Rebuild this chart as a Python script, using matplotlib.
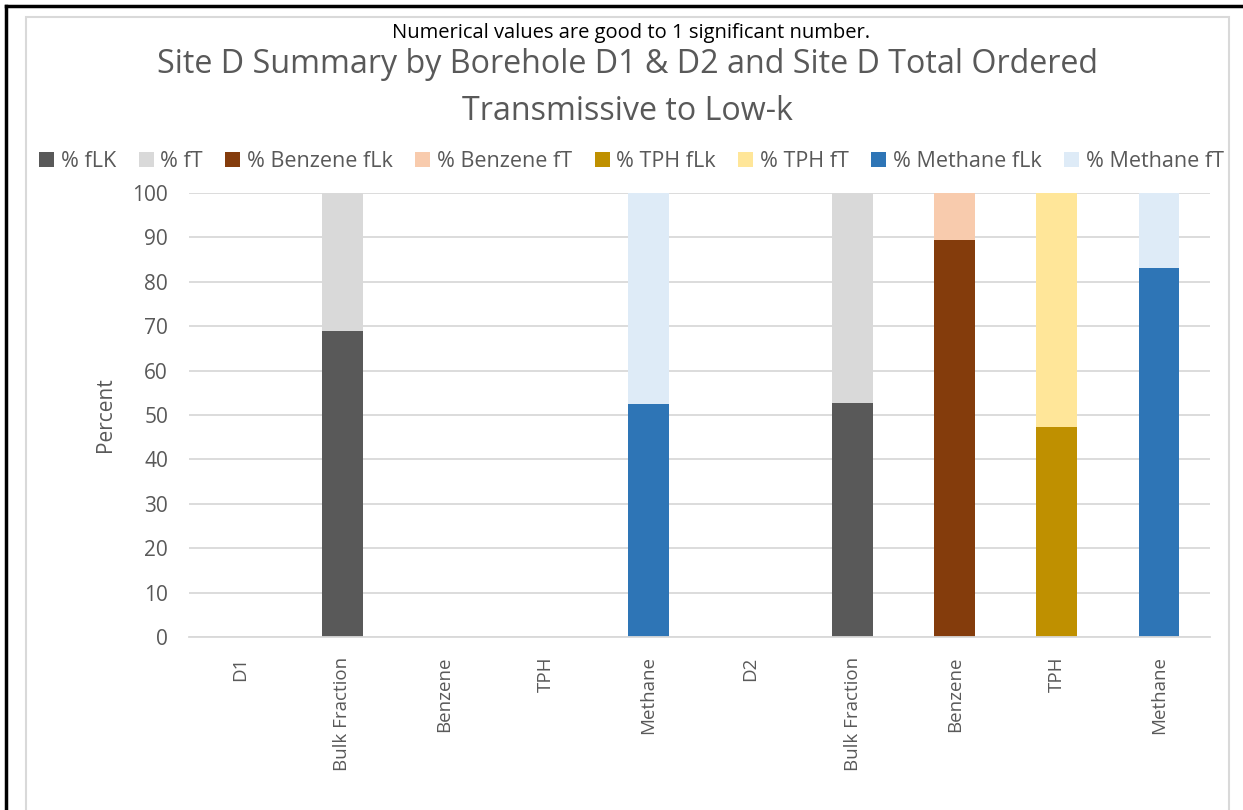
"""
Site D summary: transmissive vs. low-k fractions by borehole.
"""

import numpy as np
import matplotlib.pyplot as plt
from matplotlib.patches import Rectangle

categories = ["D1", "Bulk Fraction", "Benzene", "TPH", "Methane",
              "D2", "Bulk Fraction", "Benzene", "TPH", "Methane"]

series_names = ["% fLK", "% fT", "% Benzene fLk", "% Benzene fT",
                "% TPH fLk", "% TPH fT", "% Methane fLk", "% Methane fT"]

bulk_flk = [0, 69.0, 0, 0, 0, 0, 52.6, 0, 0, 0]
bulk_ft = [0, 31.0, 0, 0, 0, 0, 47.4, 0, 0, 0]
benzene_flk = [0, 0, 0, 0, 0, 0, 0, 89.4, 0, 0]
benzene_ft = [0, 0, 0, 0, 0, 0, 0, 10.6, 0, 0]
tph_flk = [0, 0, 0, 0, 0, 0, 0, 0, 47.3, 0]
tph_ft = [0, 0, 0, 0, 0, 0, 0, 0, 52.7, 0]
methane_flk = [0, 0, 0, 0, 52.5, 0, 0, 0, 0, 83.2]
methane_ft = [0, 0, 0, 0, 47.5, 0, 0, 0, 0, 16.8]

series_values = [bulk_flk, bulk_ft, benzene_flk, benzene_ft,
                 tph_flk, tph_ft, methane_flk, methane_ft]

colors = ["#595959", "#d9d9d9", "#843c0c", "#f8cbad",
          "#bf9000", "#ffe699", "#2e75b6", "#deebf7"]

TEXT = "#595959"
plt.rcParams["font.family"] = ["Open Sans", "DejaVu Sans"]

fig = plt.figure(figsize=(12.43, 8.10), dpi=100)
ax = fig.add_axes([0.152, 0.2136, 0.8215, 0.5481])

x = np.arange(len(categories))
bottom = np.zeros(len(categories))
handles = []
for name, vals, col in zip(series_names, series_values, colors):
    vals = np.array(vals, dtype=float)
    h = ax.bar(x, vals, width=0.4, bottom=bottom, color=col,
               label=name, zorder=2)
    handles.append(h)
    bottom += vals

ax.set_xlim(-0.5, len(categories) - 0.5)
ax.set_ylim(0, 100)
ax.set_yticks(np.arange(0, 101, 10))
ax.grid(axis="y", color="#d9d9d9", linewidth=1.3, zorder=0)
ax.set_axisbelow(True)
for side in ("top", "right", "left"):
    ax.spines[side].set_visible(False)
ax.spines["bottom"].set_color("#d9d9d9")
ax.spines["bottom"].set_linewidth(1.3)
ax.tick_params(length=0, colors=TEXT)
ax.tick_params(axis="y", labelsize=15, pad=15)
ax.tick_params(axis="x", labelsize=13.5, pad=14)
ax.set_xticks(x)
ax.set_xticklabels(categories, rotation=90)
ax.set_ylabel("Percent", color=TEXT, fontsize=15, labelpad=12)

fig.text(0.508, 0.959, "Numerical values are good to 1 significant number.",
         ha="center", va="center", fontsize=14.5, color="black")
fig.text(0.505, 0.891,
         "Site D Summary by Borehole D1 & D2 and Site D Total Ordered\n"
         "Transmissive to Low-k",
         ha="center", va="center", fontsize=23.2, color=TEXT,
         linespacing=1.55)

fig.legend(handles=handles, loc="center", bbox_to_anchor=(0.508, 0.801),
           ncol=8, frameon=False, fontsize=15.5, labelcolor=TEXT,
           handlelength=0.7, handleheight=0.7, handletextpad=0.3,
           columnspacing=1.05)

# outer black frame and inner chart-area border
fig.add_artist(Rectangle((26 / 1243, -0.1), (1229 - 26) / 1243,
                         1.1 - 17 / 810, transform=fig.transFigure,
                         fill=False, edgecolor="#d9d9d9", linewidth=1.5))
fig.add_artist(plt.Line2D([6 / 1243, 6 / 1243], [0, 1 - 6 / 810],
                          transform=fig.transFigure, color="black",
                          linewidth=2.5))
fig.add_artist(plt.Line2D([6 / 1243, 1], [1 - 6 / 810, 1 - 6 / 810],
                          transform=fig.transFigure, color="black",
                          linewidth=2.5))

fig.savefig("out.png", dpi=100)
plt.close(fig)
